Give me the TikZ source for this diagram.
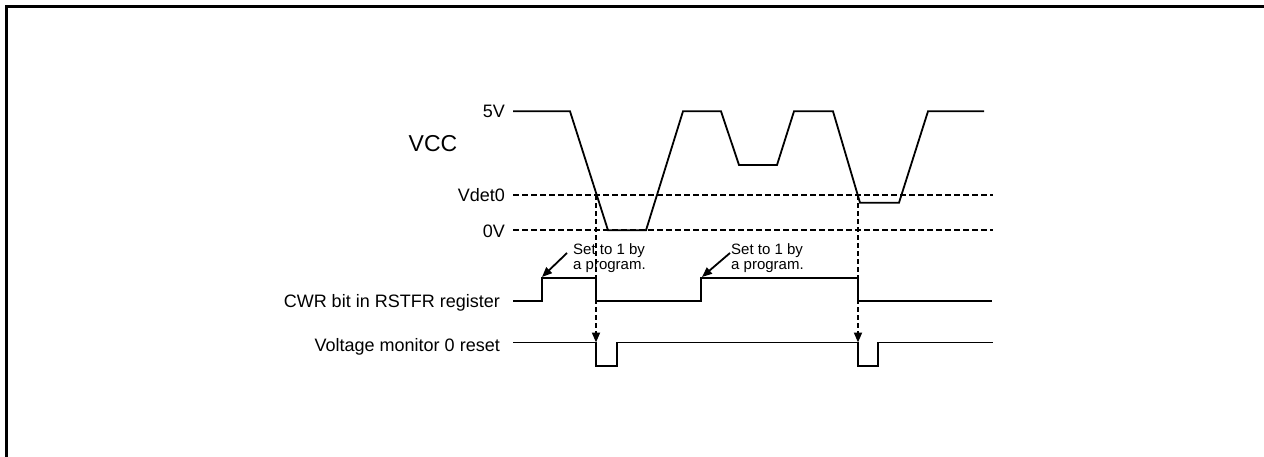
\documentclass[tikz,border=0pt]{standalone}
\usepackage{fontspec}
\setmainfont{Liberation Sans}
\usetikzlibrary{arrows.meta}
\begin{document}
\begin{tikzpicture}[x=1pt,y=-1pt,
  wave/.style={line width=1.8pt, line join=miter},
  dashln/.style={line width=1.8pt, dash pattern=on 6pt off 3pt},
  vdash/.style={line width=1.8pt, dash pattern=on 5pt off 3pt, -{Triangle[length=10pt,width=8pt]}},
  lbl/.style={font=\fontsize{18}{20}\selectfont, anchor=base east, inner sep=0pt},
  note/.style={font=\fontsize{15}{15}\selectfont, align=left, anchor=north west, inner sep=0pt},
  tip/.style={line width=1.8pt, -{Triangle[length=10pt,width=8pt]}}]
\useasboundingbox (0,0) rectangle (1264,457);
\draw[line width=3pt] (6.5,457) -- (6.5,6.5) -- (1264,6.5);
% labels
\node[lbl] (l5) at (505,118) {5V};
\node[lbl] (lv) at (505,202) {Vdet0};
\node[lbl] (l0) at (505,237) {0V};
\node[font=\fontsize{23}{25}\selectfont, anchor=base, inner sep=0pt] (vcc) at (433,152) {VCC};
\node[lbl] (lc) at (500,307.5) {CWR bit in RSTFR register};
\node[lbl] (lr) at (500,351.5) {Voltage monitor 0 reset};
% threshold lines
\draw[dashln] (513,195.3) -- (993,195.3);
\draw[dashln] (513,230.3) -- (993,230.3);
% VCC waveform
\draw[wave] (513,111.3) -- (570,111.3) -- (608,230.3) -- (646,230.3) -- (683,111.3) -- (721,111.3)
  -- (739,165) -- (777,165) -- (794,111.3) -- (833,111.3) -- (860,202.7) -- (899,202.7)
  -- (928,111.3) -- (984,111.3);
% CWR bit
\draw[wave] (513,301) -- (542,301) -- (542,278) -- (596,278) -- (596,301) -- (701,301)
  -- (701,278) -- (858,278) -- (858,301) -- (992,301);
% reset
\draw[wave] (513,342.5) -- (596,342.5) -- (596,366) -- (617,366) -- (617,342.5) -- (858,342.5)
  -- (858,366) -- (878,366) -- (878,342.5) -- (993,342.5);
% detection arrows
\coordinate (d1) at (596,195.3);
\coordinate (r1) at (596,342.5);
\coordinate (d2) at (858,195.3);
\coordinate (r2) at (858,342.5);
\draw[vdash] (d1) -- (r1);
\draw[vdash] (d2) -- (r2);
% notes
\node[note] (n1) at (573,243) {Set to 1 by\\a program.};
\node[note] (n2) at (731,243) {Set to 1 by\\a program.};
\coordinate (a1s) at (567,253);
\coordinate (a1e) at (542,277);
\coordinate (a2s) at (730,253);
\coordinate (a2e) at (702,277);
\draw[tip] (a1s) -- (a1e);
\draw[tip] (a2s) -- (a2e);
\end{tikzpicture}
\end{document}
